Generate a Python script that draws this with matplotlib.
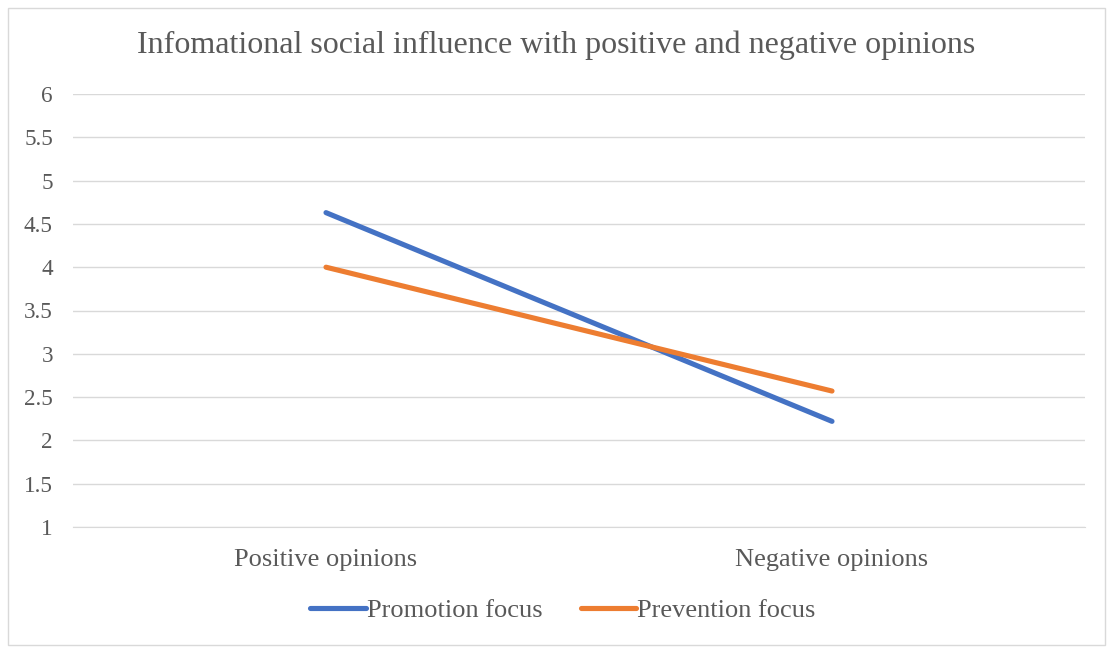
import matplotlib
matplotlib.use("Agg")
import matplotlib.pyplot as plt
from matplotlib.patches import Rectangle

categories = ["Positive opinions", "Negative opinions"]
promotion = [4.63, 2.22]
prevention = [4.00, 2.57]
yticks = [1, 1.5, 2, 2.5, 3, 3.5, 4, 4.5, 5, 5.5, 6]
ytick_labels = ["1", "1.5", "2", "2.5", "3", "3.5", "4", "4.5", "5", "5.5", "6"]

plt.rcParams["font.family"] = ["Liberation Serif", "DejaVu Serif"]
text_color = "#595959"
grid_color = "#D9D9D9"

fig = plt.figure(figsize=(11.12, 6.51), dpi=100)
W, H = 1112, 651
ax = fig.add_axes([73 / W, 1 - 527 / H, (1085 - 73) / W, (527 - 94) / H])

x = range(len(categories))
ax.plot(x, promotion, color="#4472C4", lw=3.7, solid_capstyle="round", label="Promotion focus", zorder=3)
ax.plot(x, prevention, color="#ED7D31", lw=3.7, solid_capstyle="round", label="Prevention focus", zorder=3)

ax.set_xlim(-0.5, 1.5)
ax.set_ylim(1, 6)
ax.set_yticks(yticks)
ax.set_yticklabels(ytick_labels)
ax.set_xticks(list(x))
ax.set_xticklabels(categories)
ax.tick_params(axis="both", length=0, colors=text_color)
ax.tick_params(axis="y", pad=14.5, labelsize=16.7)
ax.tick_params(axis="x", pad=15.5, labelsize=19)
ax.grid(axis="y", color=grid_color, lw=1.0)
for s in ax.spines.values():
    s.set_visible(False)
ax.spines["bottom"].set_visible(True)
ax.spines["bottom"].set_color(grid_color)
ax.set_axisbelow(True)

fig.text(0.5, 1 - 45 / H, "Infomational social influence with positive and negative opinions",
         ha="center", va="center", fontsize=23, color=text_color)

leg = fig.legend(loc="center", bbox_to_anchor=(563 / W, 1 - 610 / H), ncol=2, frameon=False,
                 fontsize=19, handlelength=2.1, handletextpad=0.05, columnspacing=1.45)
for t in leg.get_texts():
    t.set_color(text_color)

fig.patches.append(Rectangle((8 / W, 6 / H), (1105 - 8) / W, (645 - 8) / H, transform=fig.transFigure,
                             fill=False, edgecolor=grid_color, lw=1.0))

fig.savefig("out.png", dpi=100)
